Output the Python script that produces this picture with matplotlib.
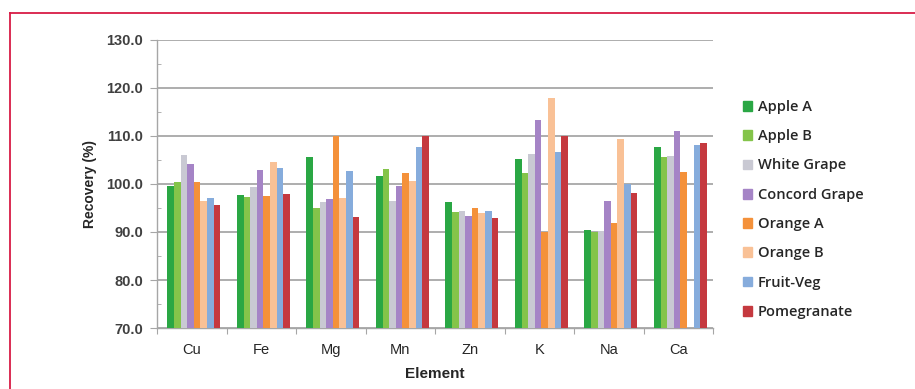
import numpy as np
import matplotlib.pyplot as plt
from matplotlib.ticker import MultipleLocator, FormatStrFormatter
from matplotlib.patches import Rectangle
from matplotlib.lines import Line2D

# recovery (%) per element for each sample matrix
elements = ['Cu', 'Fe', 'Mg', 'Mn', 'Zn', 'K', 'Na', 'Ca']
apple_a = [99.5, 97.8, 105.6, 101.7, 96.2, 105.2, 90.5, 107.8]
apple_b = [100.4, 97.2, 94.9, 103.2, 94.1, 102.3, 90.0, 105.6]
white_grape = [106.1, 99.4, 96.2, 96.4, 94.3, 106.3, 90.3, 105.9]
concord_grape = [104.2, 103.0, 96.9, 99.5, 93.3, 113.4, 96.4, 111.1]
orange_a = [100.4, 97.6, 110.1, 102.2, 95.1, 90.1, 91.9, 102.6]
orange_b = [96.4, 104.6, 97.1, 100.6, 94.0, 117.9, 109.4, np.nan]
fruit_veg = [97.0, 103.3, 102.8, 107.8, 94.3, 106.6, 99.9, 108.1]
pomegranate = [95.7, 98.0, 93.1, 110.1, 92.9, 109.9, 98.1, 108.5]

series = [apple_a, apple_b, white_grape, concord_grape,
          orange_a, orange_b, fruit_veg, pomegranate]
names = ['Apple A', 'Apple B', 'White Grape', 'Concord Grape',
         'Orange A', 'Orange B', 'Fruit-Veg', 'Pomegranate']
colors = ['#2aa744', '#84c44a', '#c9c9d3', '#a584c6',
          '#f4913a', '#f9c196', '#86acdc', '#c5393f']

fnt = ['Liberation Sans', 'DejaVu Sans']

fig = plt.figure(figsize=(9.15, 3.89), dpi=100)
ax = fig.add_axes([0.1716, 0.1568, 0.6077, 0.7404])

x = np.arange(len(elements))
bw = 0.095
for i, (vals, c) in enumerate(zip(series, colors)):
    off = (i - 3.5) * bw + 0.03
    ax.bar(x + off, np.array(vals) - 70, bw, bottom=70, color=c, zorder=3)

ax.set_xlim(-0.5, len(elements) - 0.5)
ax.set_ylim(70, 130)
ax.yaxis.set_major_locator(MultipleLocator(10))
ax.yaxis.set_minor_locator(MultipleLocator(5))
ax.yaxis.set_major_formatter(FormatStrFormatter('%.1f'))
ax.grid(axis='y', which='major', color='#a0a0a0', lw=1.2, zorder=0)

for s in ['top', 'right']:
    ax.spines[s].set_visible(False)
for s in ['left', 'bottom']:
    ax.spines[s].set_color('#a6a6a6')
    ax.spines[s].set_linewidth(1.0)

# category labels between boundary ticks
ax.set_xticks(np.arange(-0.5, len(elements)), minor=False)
ax.set_xticklabels([])
ax.set_xticks(x, minor=True)
ax.set_xticklabels(elements, minor=True, fontfamily=fnt, fontsize=10.5,
                   color='#262626')
ax.tick_params(axis='x', which='major', length=4, color='#a6a6a6')
ax.tick_params(axis='x', which='minor', length=0, pad=11)
ax.tick_params(axis='y', which='major', length=5, color='#a6a6a6',
               labelsize=10.5, labelcolor='#404040', pad=5)
ax.tick_params(axis='y', which='minor', length=3, direction='in',
               color='#a6a6a6')
for t in ax.get_yticklabels():
    t.set_fontfamily(fnt)
    t.set_fontweight('bold')

ax.set_ylabel('Recovery (%)', fontfamily=fnt, fontweight='bold',
              fontsize=10, color='#262626', labelpad=7)
ax.set_xlabel('Element', fontfamily=fnt, fontweight='bold',
              fontsize=11, color='#262626', labelpad=7)

handles = [Rectangle((0, 0), 1, 1, color=c) for c in colors]
leg = fig.legend(handles, names, loc='upper left',
                 bbox_to_anchor=(0.804, 0.762), frameon=False,
                 prop={'family': ['Open Sans', 'DejaVu Sans'],
                       'weight': 'semibold', 'size': 10.5},
                 handlelength=0.65, handleheight=0.65, handletextpad=0.35,
                 labelspacing=1.05, borderpad=0)
for t in leg.get_texts():
    t.set_color('#262626')

# red frame around the figure panel
fig.add_artist(Line2D([0.0104, 0.0104], [0.0, 0.967], color='#d81b45',
                      lw=1.3, transform=fig.transFigure))
fig.add_artist(Line2D([0.0104, 1.0], [0.967, 0.967], color='#d81b45',
                      lw=1.3, transform=fig.transFigure))

fig.savefig('out.png', dpi=100)
